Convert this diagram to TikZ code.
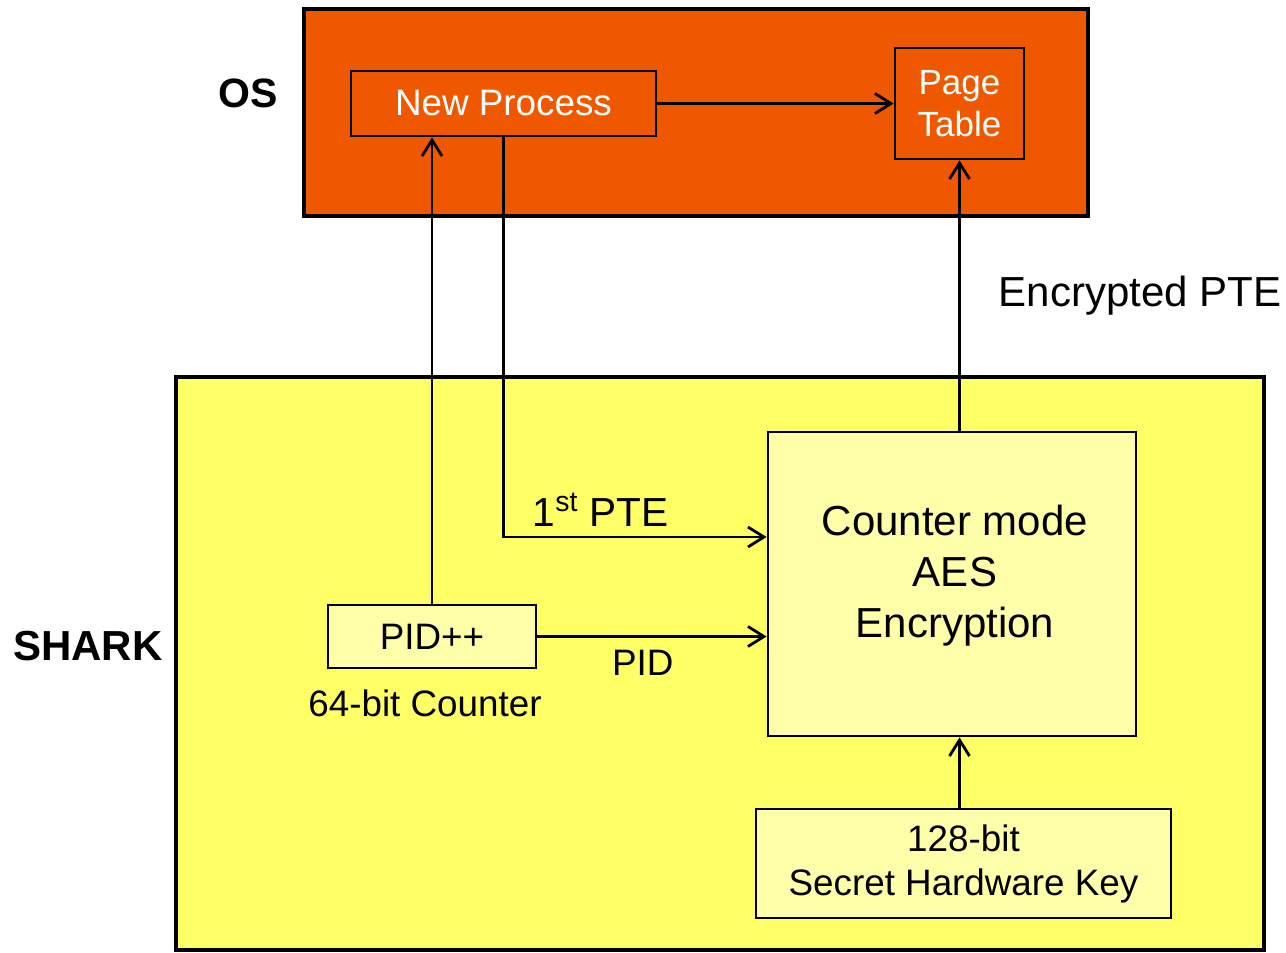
\documentclass[tikz,border=0pt]{standalone}
\usepackage{fontspec}
\setmainfont{Liberation Sans}
\usetikzlibrary{positioning,arrows.meta}
\definecolor{osorange}{RGB}{240,88,0}
\definecolor{sharkyellow}{RGB}{255,255,102}
\definecolor{boxyellow}{RGB}{255,255,170}

\begin{document}
\begin{tikzpicture}[x=0.5pt, y=-0.5pt,
    region/.style={rectangle, draw, line width=2pt, inner sep=0pt},
    block/.style={rectangle, draw, line width=1.4pt, align=center, inner sep=0pt, font=\fontsize{18.4}{22}\selectfont},
    txt/.style={inner sep=1pt, align=center, font=\fontsize{18.4}{22}\selectfont},
    bigtxt/.style={inner sep=1pt, align=center, font=\fontsize{21}{25.5}\selectfont},
    arrow/.style={-{Straight Barb[length=8pt,width=10pt]}, line width=1.4pt}]

\useasboundingbox (0,0) rectangle (1286,953);

% the two regions
\node[region, fill=osorange, minimum width=392pt, minimum height=103.5pt] (os) at (696,112.5) {};
\node[region, fill=sharkyellow, minimum width=544pt, minimum height=286.5pt] (shark) at (720,663.5) {};
\node[bigtxt, font=\bfseries\fontsize{20.5}{24}\selectfont] (oslabel) at (248,93) {OS};
\node[bigtxt, font=\bfseries\fontsize{21}{24}\selectfont] (sharklabel) at (88,646) {SHARK};

% OS side
\node[block, fill=osorange, text=white, minimum width=152.5pt, minimum height=32.5pt] (newproc) at (503.5,103.5) {New Process};
\node[block, fill=osorange, text=white, minimum width=64.5pt, minimum height=55.5pt, font=\fontsize{17.5}{21}\selectfont] (pagetab) at (959.5,103.5) {\raisebox{-1.5pt}{Page}\\\raisebox{-1.5pt}{Table}};

% SHARK side
\node[block, fill=boxyellow, minimum width=184pt, minimum height=152pt] (aes) at (952,584) {};
\node[bigtxt] (aestext) at (955,576) {Counter mode\\AES\\Encryption};
\node[block, fill=boxyellow, minimum width=104pt, minimum height=31.5pt] (pid) at (432,636.5) {PID++};
\node[txt] (counter) at (425,703) {64-bit Counter};
\node[block, fill=boxyellow, minimum width=207.5pt, minimum height=54.5pt] (key) at (963.5,863.5) {\raisebox{-1.5pt}{128-bit}\\\raisebox{-1.5pt}{Secret Hardware Key}};

% connectors
\draw[arrow] (newproc) -- (pagetab);
\draw[arrow] (pid.north) -- (pid.north |- newproc.south);
\draw[arrow] (newproc.south) |- ([yshift=23.5pt]aes.west)
    node[pos=0.685, above=1pt, font=\fontsize{20.3}{24}\selectfont] (pte) {1\textsuperscript{st} PTE};
\draw[arrow] (pid.east) -- (pid.east -| aes.west)
    node[pos=0.46, below=5pt, txt] (pidlabel) {PID};
\draw[arrow] (pagetab.south |- aes.north) -- (pagetab.south)
    node[midway, right=18pt, bigtxt] (enc) {Encrypted PTE};
\draw[arrow] (pagetab.south |- key.north) -- (pagetab.south |- aes.south);
\end{tikzpicture}
\end{document}
